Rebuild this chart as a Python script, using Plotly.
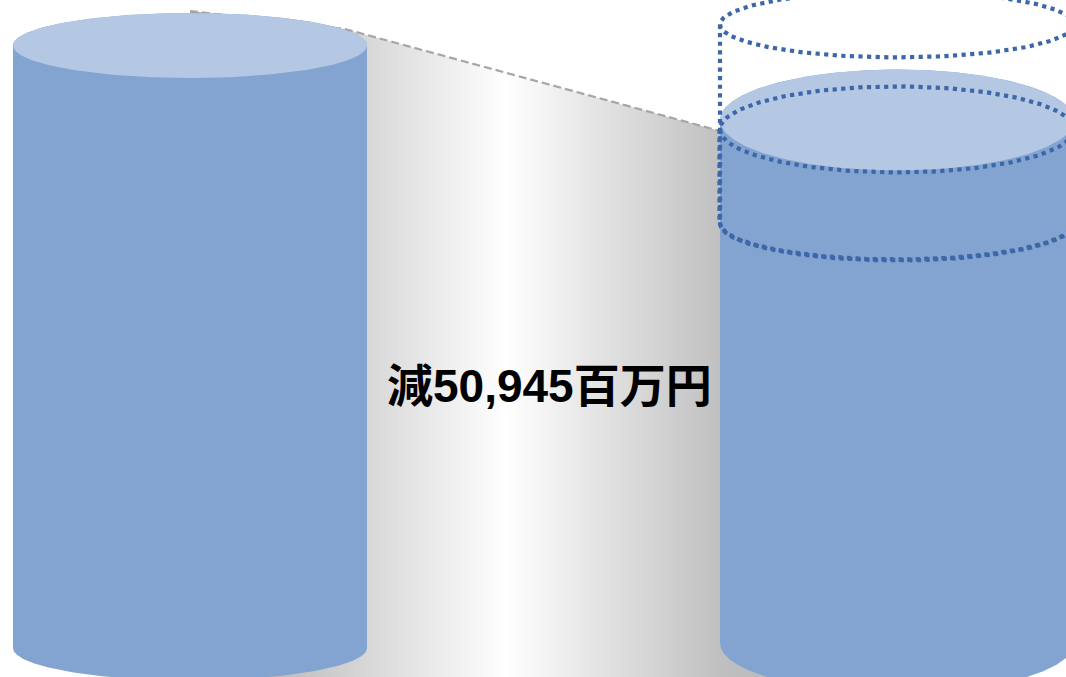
import numpy as np
import plotly.graph_objects as go

# Balances in millions of yen
cylinder_names = ["前", "後"]
top_values = [412000, 361055]
base_values = [0, 3400]
reduction_label = "減50,945百万円"

# Levels of the dotted outline around the right cylinder
dotted_levels = [426400, 354600, 290300, 290600]

PX = 683.8            # millions of yen per screen pixel
BASE_Y = 648          # screen row of the value 0
W, H = 1066, 677

BODY = "#83A3D0"
LID = "#B4C7E3"
DOT = "#3C67A8"
GUIDE = "#A6A6A6"

centers = [190, 897]
rx = 177
ry_top = [32.5, 50.5]
ry_base = [32.5, 50]


def ellipse(cx, cy, a, b, t0=0.0, t1=2 * np.pi, n=240):
    t = np.linspace(t0, t1, n)
    return cx + a * np.cos(t), cy + b * PX * np.sin(t)


fig = go.Figure()

# Band between the two cylinders
band_x = [190, 345, 720, 897, 897, 190, 190]
band_y = [(BASE_Y - 11) * PX, (BASE_Y - 29) * PX, (BASE_Y - 131) * PX, (BASE_Y - 131) * PX,
          (BASE_Y - 690) * PX, (BASE_Y - 690) * PX, (BASE_Y - 11) * PX]
fig.add_trace(go.Scatter(
    x=band_x, y=band_y, mode="lines", line=dict(width=0), fill="toself",
    fillgradient=dict(
        type="horizontal",
        colorscale=[
            [0.0, "#a4a4a4"],
            [0.25, "#d7d7d7"],
            [0.447, "#ffffff"],
            [0.75, "#c0c0c0"],
            [1.0, "#a8a8a8"],
        ],
    ),
    hoverinfo="skip",
))

# Dashed guide along the top of the band
fig.add_trace(go.Scatter(
    x=[190, 345, 720],
    y=[(BASE_Y - 11) * PX, (BASE_Y - 29) * PX, (BASE_Y - 131) * PX],
    mode="lines", line=dict(color=GUIDE, width=2.2, dash="8px,4px"), hoverinfo="skip",
))

# Solid cylinders
for name, cx, top, base, ryt, ryb in zip(cylinder_names, centers, top_values, base_values, ry_top, ry_base):
    xa, ya = ellipse(cx, base, rx, ryb, np.pi, 2 * np.pi)
    xb, yb = ellipse(cx, top, rx, ryt, 0, np.pi)
    fig.add_trace(go.Scatter(
        x=np.r_[xa, xb], y=np.r_[ya, yb], mode="lines", line=dict(width=0),
        fill="toself", fillcolor=BODY, name=name, hoverinfo="skip",
    ))
    xl, yl = ellipse(cx, top, rx, ryt)
    fig.add_trace(go.Scatter(
        x=xl, y=yl, mode="lines", line=dict(width=0),
        fill="toself", fillcolor=LID, hoverinfo="skip",
    ))

# Dotted outline on the right cylinder
dot_line = dict(color=DOT, width=4.2, dash="4.2px,4.4px")
cx = centers[1]
xu, yu = ellipse(cx, dotted_levels[0], rx, 33)
fig.add_trace(go.Scatter(x=xu, y=yu, mode="lines", line=dot_line, hoverinfo="skip"))
xm, ym = ellipse(cx, dotted_levels[1], rx, 43)
fig.add_trace(go.Scatter(x=xm, y=ym, mode="lines", line=dot_line, hoverinfo="skip"))
# The two lower arcs nearly coincide, so their dots interleave
xd, yd = ellipse(cx, dotted_levels[2], rx, 37, np.pi, 2 * np.pi)
fig.add_trace(go.Scatter(x=xd, y=yd, mode="lines", line=dot_line, hoverinfo="skip"))
xe, ye = ellipse(cx, dotted_levels[3], rx, 36.5, np.pi, 2 * np.pi)
fig.add_trace(go.Scatter(x=xe[::-1], y=ye[::-1], mode="lines", line=dot_line, hoverinfo="skip"))
fig.add_trace(go.Scatter(
    x=[cx - rx, cx - rx], y=[dotted_levels[0], dotted_levels[2]],
    mode="lines", line=dot_line, hoverinfo="skip",
))
fig.add_trace(go.Scatter(
    x=[cx - rx - 0.5, cx - rx - 0.5], y=[dotted_levels[1], dotted_levels[2]],
    mode="lines", line=dot_line, hoverinfo="skip",
))

fig.add_annotation(
    x=549.5, y=(BASE_Y - 385.5) * PX, text=f"<b>{reduction_label}</b>", showarrow=False,
    font=dict(family="Liberation Sans, Noto Sans CJK JP", size=46, color="#000000"),
)

fig.update_layout(
    width=W, height=H, autosize=False, showlegend=False,
    margin=dict(l=0, r=0, t=0, b=0),
    paper_bgcolor="#ffffff", plot_bgcolor="#ffffff",
    xaxis=dict(range=[0, W], visible=False, fixedrange=True),
    yaxis=dict(range=[(BASE_Y - H) * PX, BASE_Y * PX], visible=False, fixedrange=True),
)

fig.write_html("out.html", config=dict(displayModeBar=False))
